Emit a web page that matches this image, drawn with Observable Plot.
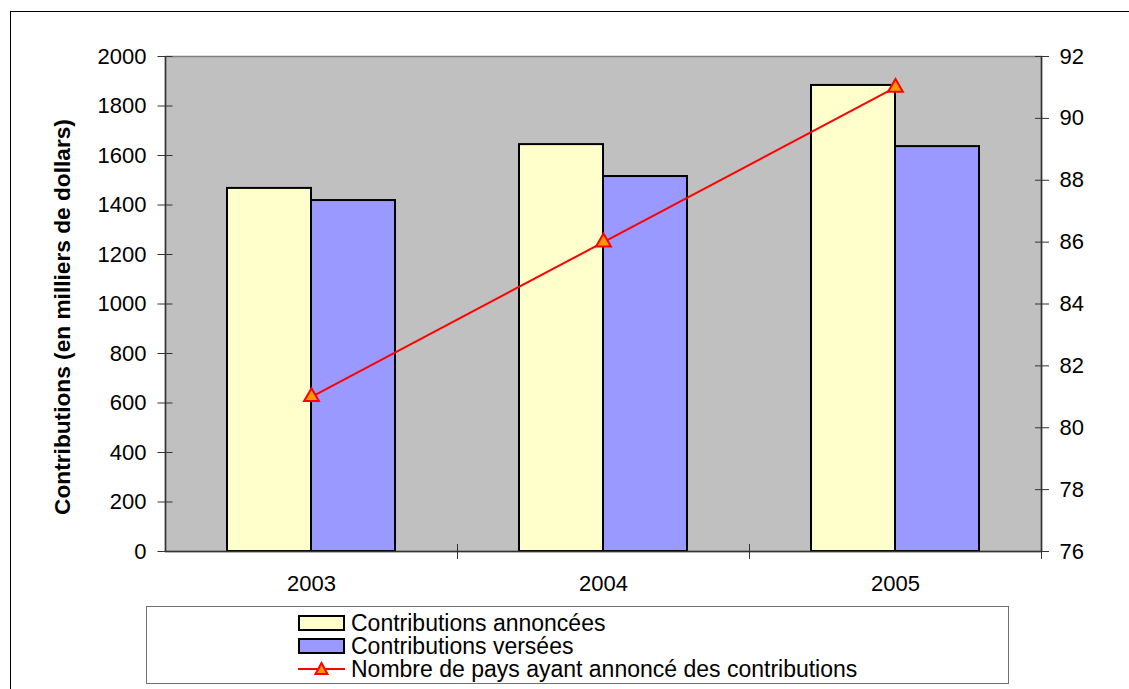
<!DOCTYPE html>
<html><head><meta charset="utf-8">
<script src="https://cdn.jsdelivr.net/npm/d3@7"></script>
<script src="https://cdn.jsdelivr.net/npm/@observablehq/plot@0.6"></script>
<style>
body{margin:0;background:#fff;font-family:"Liberation Sans",Arial,sans-serif;}
#wrap{position:relative;width:1129px;height:689px;overflow:hidden;background:#fff;}
#border{position:absolute;left:10px;top:11px;width:1140px;height:700px;border:1px solid #000;}
#chart{position:absolute;left:0;top:0;}
#legend{position:absolute;left:146px;top:606px;width:863px;height:78px;border:1.5px solid #707070;box-sizing:border-box;}
.row{position:absolute;left:151px;height:23px;display:flex;align-items:center;font-size:23px;line-height:22px;color:#000;white-space:nowrap;}
.row span{display:inline-block;height:22px;line-height:22px;overflow:visible;}
.row svg{margin-right:6px;}
</style></head>
<body>
<div id="wrap">
  <div id="border"></div>
  <div id="chart"></div>
  <div id="legend"></div>
</div>
<script>
const years = ["2003", "2004", "2005"];
const annoncees = [1467, 1644, 1883];
const versees = [1418, 1515, 1636];
const pays = [81, 86, 91];
const leftTicks = [0, 200, 400, 600, 800, 1000, 1200, 1400, 1600, 1800, 2000];
const rightTicks = [76, 78, 80, 82, 84, 86, 88, 90, 92];
const leftDomain = [0, 2000];
const rightDomain = [76, 92];
const yTitle = "Contributions (en milliers de dollars)";
const seriesNames = ["Contributions annoncées", "Contributions versées", "Nombre de pays ayant annoncé des contributions"];
const colors = {annoncees: "#ffffcc", versees: "#9999ff", line: "#ff0000", marker: "#ff9900"};

const toLeft = v => (v - rightDomain[0]) / (rightDomain[1] - rightDomain[0]) * (leftDomain[1] - leftDomain[0]) + leftDomain[0];
const fromLeft = v => (v - leftDomain[0]) / (leftDomain[1] - leftDomain[0]) * (rightDomain[1] - rightDomain[0]) + rightDomain[0];

const dataA = years.map((y, i) => ({year: y, value: annoncees[i]}));
const dataV = years.map((y, i) => ({year: y, value: versees[i]}));
const dataP = years.map((y, i) => ({year: y, value: toLeft(pays[i])}));

const chart = Plot.plot({
  width: 1129,
  height: 600,
  marginLeft: 165,
  marginRight: 88,
  marginTop: 56,
  marginBottom: 49,
  style: {fontFamily: '"Liberation Sans", Arial, sans-serif', fontSize: "22px", background: "transparent", overflow: "visible", color: "#000"},
  x: {domain: years, padding: 0},
  y: {domain: leftDomain},
  marks: [
    Plot.frame({fill: "#c0c0c0", stroke: "#808080", strokeWidth: 1.5}),
    Plot.barY(dataA, {x: "year", y: "value", fill: colors.annoncees, stroke: "#000", strokeWidth: 2, insetLeft: 62, insetRight: 146}),
    Plot.barY(dataV, {x: "year", y: "value", fill: colors.versees, stroke: "#000", strokeWidth: 2, insetLeft: 146, insetRight: 62}),
    Plot.ruleY([leftDomain[0]], {stroke: "#333", strokeWidth: 1.5}),
    Plot.ruleX([years[0]], {dx: -146, stroke: "#333", strokeWidth: 1.5}),
    Plot.ruleX([years[years.length - 1]], {dx: 146, stroke: "#333", strokeWidth: 1.5}),
    Plot.line(dataP, {x: "year", y: "value", stroke: colors.line, strokeWidth: 2}),
    Plot.dot(dataP, {x: "year", y: "value", symbol: "triangle", r: 5.5, fill: colors.marker, stroke: colors.line, strokeWidth: 2}),
    Plot.axisY(leftTicks, {anchor: "left", tickSize: 15, dx: 7.5, tickPadding: 11.5, tickFormat: d => String(d), label: null, stroke: "#333"}),
    Plot.axisY(rightTicks.map(toLeft), {anchor: "right", tickSize: 14, dx: -7, tickPadding: 11, tickFormat: d => String(Math.round(fromLeft(d))), label: null, stroke: "#333"}),
    Plot.axisX({anchor: "bottom", tickSize: 15, dy: -7, dx: 146, fill: "none", label: null, stroke: "#333"}),
    Plot.axisX({anchor: "bottom", tickSize: 0, tickPadding: 24, label: null}),
    Plot.text([yTitle], {frameAnchor: "left", textAnchor: "middle", rotate: -90, dx: -103, dy: 13, fontWeight: "bold", fontSize: 22.7})
  ]
});
document.getElementById("chart").appendChild(chart);

// Legend
const legend = document.getElementById("legend");
const swatches = [
  `<svg width="47" height="16"><rect x="1" y="1" width="45" height="14" fill="${colors.annoncees}" stroke="#000" stroke-width="2"/></svg>`,
  `<svg width="47" height="16"><rect x="1" y="1" width="45" height="14" fill="${colors.versees}" stroke="#000" stroke-width="2"/></svg>`,
  `<svg width="47" height="16"><line x1="0" x2="47" y1="8" y2="8" stroke="${colors.line}" stroke-width="2"/><path d="M23.5,2 L29.5,13 L17.5,13 Z" fill="${colors.marker}" stroke="${colors.line}" stroke-width="2"/></svg>`
];
seriesNames.forEach((name, i) => {
  const row = document.createElement("div");
  row.className = "row";
  row.style.top = (4 + i * 23) + "px";
  row.innerHTML = swatches[i] + `<span>${name}</span>`;
  legend.appendChild(row);
});
</script>
</body></html>
